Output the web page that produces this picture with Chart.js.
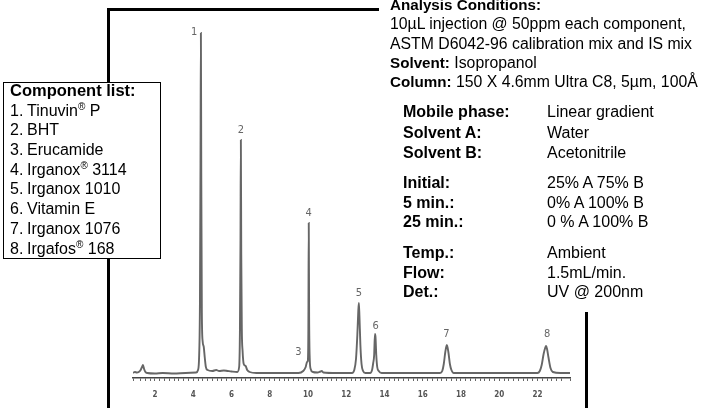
<!DOCTYPE html>
<html>
<head>
<meta charset="utf-8">
<script src="https://cdn.jsdelivr.net/npm/chart.js@4.4.1/dist/chart.umd.min.js"></script>
<style>
  body { margin: 0; background: #fff; }
  #wrap { position: relative; width: 709px; height: 408px; overflow: hidden; font-family: "Liberation Sans", Arial, sans-serif; color: #000; }
  #chart { position: absolute; left: 0; top: 0; }
  .bar { position: absolute; background: #000; }
  .list { position: absolute; left: 3px; top: 82px; width: 158px; height: 177px; border: 1.5px solid #000; background: #fff; box-sizing: border-box; padding: 0 0 0 6px; font-size: 16px; }
  .list div { height: 19.7px; line-height: 19.7px; white-space: nowrap; }
  .list .n { display: inline-block; width: 17px; }
  sup { font-size: 10px; line-height: 0; vertical-align: 6px; }
  .txt { position: absolute; font-size: 15.8px; white-space: nowrap; line-height: 19.3px; }
  .txt b { font-size: 15.2px; }
  .row { position: absolute; font-size: 16px; white-space: nowrap; line-height: 20px; }
  .row b { position: absolute; left: 0; }
  .row span { position: absolute; left: 144px; }
</style>
</head>
<body>
<div id="wrap">
  <canvas id="chart" width="709" height="408"></canvas>

  <div class="bar" style="left:107px; top:8px; width:272px; height:3px;"></div>
  <div class="bar" style="left:107px; top:8px; width:3px; height:400px;"></div>
  <div class="bar" style="left:585px; top:312px; width:3px; height:96px;"></div>

  <div class="list">
    <div style="margin-top:-2px; font-size:16.5px"><b>Component list:</b></div>
    <div><span class="n">1.</span>Tinuvin<sup>®</sup> P</div>
    <div><span class="n">2.</span>BHT</div>
    <div><span class="n">3.</span>Erucamide</div>
    <div><span class="n">4.</span>Irganox<sup>®</sup> 3114</div>
    <div><span class="n">5.</span>Irganox 1010</div>
    <div><span class="n">6.</span>Vitamin E</div>
    <div><span class="n">7.</span>Irganox 1076</div>
    <div><span class="n">8.</span>Irgafos<sup>®</sup> 168</div>
  </div>

  <div class="txt" style="left:390px; top:-5px;">
    <b>Analysis Conditions:</b><br>
    10µL injection @ 50ppm each component,<br>
    ASTM D6042-96 calibration mix and IS mix<br>
    <b>Solvent:</b> Isopropanol<br>
    <b>Column:</b> 150 X 4.6mm Ultra C8, 5µm, 100Å
  </div>

  <div class="row" style="left:403px; top:102px;"><b>Mobile phase:</b><span>Linear gradient</span></div>
  <div class="row" style="left:403px; top:123px;"><b>Solvent A:</b><span>Water</span></div>
  <div class="row" style="left:403px; top:143px;"><b>Solvent B:</b><span>Acetonitrile</span></div>
  <div class="row" style="left:403px; top:173px;"><b>Initial:</b><span>25% A 75% B</span></div>
  <div class="row" style="left:403px; top:193px;"><b>5 min.:</b><span>0% A 100% B</span></div>
  <div class="row" style="left:403px; top:212px;"><b>25 min.:</b><span>0 % A 100% B</span></div>
  <div class="row" style="left:403px; top:243px;"><b>Temp.:</b><span>Ambient</span></div>
  <div class="row" style="left:403px; top:263px;"><b>Flow:</b><span>1.5mL/min.</span></div>
  <div class="row" style="left:403px; top:282px;"><b>Det.:</b><span>UV @ 200nm</span></div>
</div>

<script>
// retention time (min) and detector response
const times = [
  0.85, 0.95, 1.05, 1.15, 1.25, 1.32, 1.37, 1.43, 1.5, 1.6, 2.0, 2.4, 3.0, 3.6, 4.15,
  4.25, 4.31, 4.35, 4.38, 4.40, 4.42, 4.45, 4.49, 4.55, 4.6, 4.66, 4.75, 5.0, 5.2, 5.35, 5.6, 5.8, 6.0, 6.3,
  6.40, 6.44, 6.47, 6.49, 6.51, 6.54, 6.58, 6.64, 6.74, 6.82, 6.95, 7.3, 8.0, 8.8, 9.5,
  9.75, 9.88, 9.95, 9.99, 10.02, 10.04, 10.06, 10.09, 10.14, 10.25, 10.5, 10.65, 10.72, 10.8, 11.5, 12.3,
  12.42, 12.51, 12.58, 12.63, 12.66, 12.69, 12.74, 12.8, 12.88, 13.0, 13.25,
  13.35, 13.41, 13.46, 13.50, 13.53, 13.57, 13.62, 13.7, 13.85, 14.5, 15.5, 16.5, 16.9,
  17.02, 17.1, 17.18, 17.26, 17.34, 17.42, 17.5, 17.62, 18.5, 19.5, 20.5, 21.5, 22.0,
  22.12, 22.22, 22.32, 22.40, 22.45, 22.50, 22.58, 22.68, 22.8, 23.2, 23.7
];
const signal = [
  0, 1, 0.5, 1, 3, 6, 8, 4, 1, 0, -0.5, 0, -0.5, 0, 0.5,
  3, 18, 70, 210, 340, 200, 60, 32, 26, 16, 6, 3, 2, 3, 2, 2.5, 2, 1.5, 1,
  6, 40, 130, 233, 120, 44, 22, 9, 7, 3, 1, 0, 0, 0, 0,
  2, 6, 11, 12, 45, 150, 55, 15, 4, 1, 0.5, 1.5, 2, 0.5, 0, 0,
  3, 14, 38, 62, 70, 57, 28, 9, 2, 0, 0,
  3, 10, 18, 39, 36, 18, 6, 2, 0, 0, 0, 0, 0,
  2, 9, 21, 28, 21, 9, 3, 0, 0, 0, 0, 0, 0,
  2, 8, 19, 25, 27, 24, 15, 5, 1, 0, 0
];

// peak numbers and where they sit (min, response)
const peakNames = ['1', '2', '3', '4', '5', '6', '7', '8'];
const labelTimes = [4.05, 6.49, 9.5, 10.04, 12.66, 13.54, 17.24, 22.5];
const labelHeights = [341, 243, 21, 160, 80, 47, 39, 39];

// labelled retention-time ticks
const tickLabels = [2, 4, 6, 8, 10, 12, 14, 16, 18, 20, 22];

const peakLabelPlugin = {
  id: 'peakLabels',
  afterDatasetsDraw(chart) {
    const { ctx, scales } = chart;
    ctx.save();
    ctx.fillStyle = '#666';
    ctx.font = '11px "DejaVu Sans Condensed", "Liberation Sans Narrow", sans-serif';
    ctx.textAlign = 'center';
    ctx.textBaseline = 'middle';
    peakNames.forEach((name, i) => {
      ctx.fillText(name, scales.x.getPixelForValue(labelTimes[i]), scales.y.getPixelForValue(labelHeights[i]));
    });
    ctx.restore();
  }
};

new Chart(document.getElementById('chart'), {
  type: 'line',
  data: {
    datasets: [{
      data: times.map((t, i) => ({ x: t, y: signal[i] })),
      borderColor: '#666',
      borderWidth: 1.9,
      pointRadius: 0,
      cubicInterpolationMode: 'monotone',
      fill: false
    }]
  },
  options: {
    responsive: false,
    animation: false,
    layout: { padding: { left: 133, right: 139, top: 23, bottom: 0 } },
    plugins: { legend: { display: false }, tooltip: { enabled: false } },
    scales: {
      x: {
        type: 'linear',
        min: 0.85,
        max: 23.7,
        afterFit(scale) { scale.height = 30; },
        border: { display: true, color: '#444', width: 1.5 },
        grid: { display: true, drawOnChartArea: false, tickLength: 3, color: '#666' },
        ticks: {
          stepSize: 0.25,
          autoSkip: false,
          maxRotation: 0,
          padding: 9,
          color: '#555',
          font: { size: 8, family: '"DejaVu Sans Condensed", sans-serif', weight: 'bold' },
          callback: (v) => tickLabels.includes(v) ? String(v) : ''
        }
      },
      y: {
        display: false,
        min: -5,
        max: 350
      }
    }
  },
  plugins: [peakLabelPlugin]
});
</script>
</body>
</html>
